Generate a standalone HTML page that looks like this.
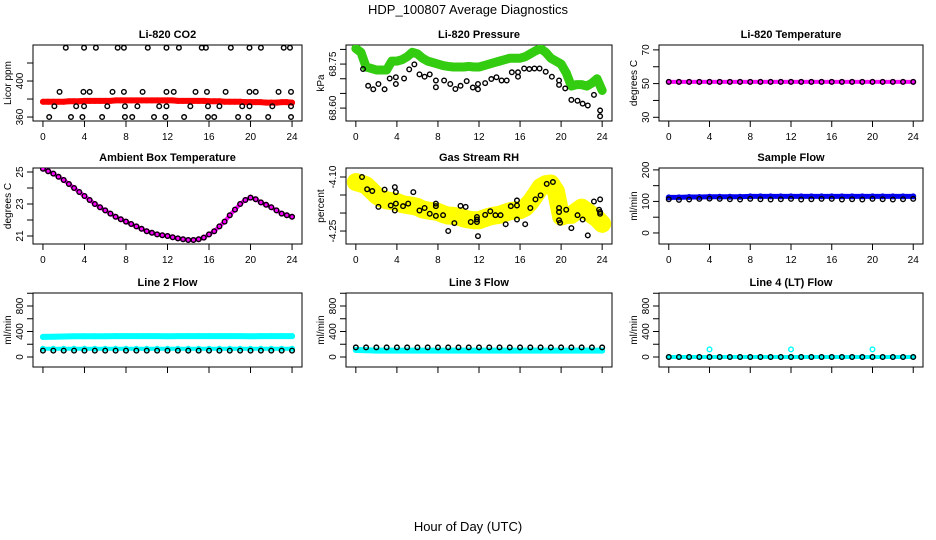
<!DOCTYPE html>
<html><head><meta charset="utf-8"><style>
html,body{margin:0;padding:0;background:#fff;}
svg{display:block;font-family:"Liberation Sans",sans-serif;}
</style></head><body>
<svg id="chart" width="936" height="540" viewBox="0 0 936 540" xmlns="http://www.w3.org/2000/svg">
<text x="468" y="14" font-size="13" text-anchor="middle">HDP_100807  Average Diagnostics</text>
<text x="468" y="531" font-size="13" text-anchor="middle">Hour of Day (UTC)</text>
</svg>
<script>
const xTicks=[0,4,8,12,16,20,24];
const halfHours=[0,0.5,1,1.5,2,2.5,3,3.5,4,4.5,5,5.5,6,6.5,7,7.5,8,8.5,9,9.5,10,10.5,11,11.5,12,12.5,13,13.5,14,14.5,15,15.5,16,16.5,17,17.5,18,18.5,19,19.5,20,20.5,21,21.5,22,22.5,23,23.5,24];
const hours=[0,1,2,3,4,5,6,7,8,9,10,11,12,13,14,15,16,17,18,19,20,21,22,23,24];
// Li-820 CO2
const co2BlackX=[2.2,3.96,5.1,7.2,7.8,10.1,11.9,13.1,15.3,15.7,18.1,19.9,21.0,23.2,23.8,1.6,3.9,4.5,6.7,7.8,9.6,11.9,12.6,14.7,15.8,17.6,19.9,20.5,22.7,23.9,1.1,3.2,3.96,6.2,7.9,9.1,11.2,11.9,14.2,15.9,17.0,19.2,19.9,22.1,23.9,0.6,2.7,3.8,5.7,7.9,8.6,10.7,11.8,13.6,15.9,16.5,18.8,19.8,21.7,23.9];
const co2BlackY=[437,437,437,437,437,437,437,437,437,437,437,437,437,437,437,388,388,388,388,388,388,388,388,388,388,388,388,388,388,388,372,372,372,372,372,372,372,372,372,372,372,372,372,372,372,360,360,360,360,360,360,360,360,360,360,360,360,360,360,360];
const co2Red=[377,377,377,377,377,377.5,377.5,377.5,378,378,378,378,378,378,378.5,378.5,378.5,378.5,378.5,378.5,378.5,378.5,378.5,378.5,378.5,378.5,378,378,378,378,378,378,377.5,377.5,377.5,377,377,377,377,376.5,376.5,376.5,376.5,376,376,376,376.5,376.5,376];
// Li-820 Pressure
const presGreen=[68.803,68.79,68.74,68.735,68.73,68.73,68.73,68.76,68.76,68.765,68.775,68.79,68.785,68.77,68.76,68.755,68.75,68.745,68.742,68.74,68.74,68.74,68.742,68.74,68.74,68.745,68.75,68.755,68.76,68.765,68.77,68.77,68.77,68.775,68.785,68.795,68.803,68.79,68.77,68.76,68.75,68.72,68.675,68.68,68.68,68.675,68.685,68.7,68.66];
const presBlackX=[0.7,1.2,1.7,2.2,2.8,3.3,3.9,3.9,4.7,5.2,5.7,6.2,6.7,7.2,7.8,7.8,8.6,9.2,9.7,10.2,10.8,11.4,11.9,11.9,12.6,13.2,13.7,14.2,14.7,15.2,15.8,15.8,16.4,16.9,17.4,17.9,18.5,19.1,19.8,19.8,20.4,21.0,21.6,22.1,22.6,23.2,23.8,23.8];
const presBlackY=[68.733,68.676,68.664,68.682,68.664,68.701,68.682,68.705,68.701,68.732,68.749,68.715,68.707,68.715,68.694,68.671,68.694,68.682,68.665,68.676,68.692,68.670,68.682,68.664,68.685,68.699,68.705,68.694,68.694,68.722,68.722,68.707,68.735,68.733,68.735,68.735,68.724,68.707,68.694,68.679,68.667,68.628,68.625,68.615,68.609,68.645,68.592,68.572];
// Li-820 Temperature
const tempMagenta=[51,51,51,51,51,51,51,51,51,51,51,51,51,51,51,51,51,51,51,51,51,51,51,51,51];
const tempBlack=[51,51,51,51,51,51,51,51,51,51,51,51,51,51,51,51,51,51,51,51,51,51,51,51,51];
// Ambient box temperature
const ambient=[25.2,25.05,24.9,24.7,24.5,24.25,24.0,23.75,23.5,23.25,23.0,22.8,22.6,22.4,22.2,22.05,21.9,21.75,21.6,21.45,21.3,21.2,21.1,21.05,21.0,20.92,20.85,20.8,20.75,20.75,20.8,20.9,21.1,21.3,21.6,21.9,22.3,22.65,23.0,23.25,23.4,23.3,23.1,22.95,22.8,22.6,22.4,22.3,22.2];
// Gas stream RH
const rhYellow=[-4.114,-4.118,-4.123,-4.137,-4.151,-4.16,-4.165,-4.167,-4.169,-4.175,-4.178,-4.18,-4.183,-4.19,-4.193,-4.195,-4.197,-4.203,-4.207,-4.208,-4.21,-4.215,-4.218,-4.22,-4.22,-4.215,-4.21,-4.207,-4.205,-4.2,-4.195,-4.193,-4.192,-4.185,-4.17,-4.15,-4.128,-4.12,-4.118,-4.14,-4.21,-4.205,-4.205,-4.195,-4.185,-4.195,-4.205,-4.215,-4.23];
const rhBlackX=[0.6,1.1,1.6,2.2,2.8,3.4,3.8,3.9,3.8,3.9,4.6,5.1,5.6,6.2,6.7,7.2,7.8,7.8,7.8,8.5,9.0,9.6,10.2,10.7,11.2,11.8,11.8,11.8,11.9,12.6,13.1,13.6,14.1,14.6,15.1,15.7,15.7,15.7,16.5,17.0,17.5,18.0,18.6,19.2,19.8,19.8,19.8,19.9,20.5,21.0,21.6,22.1,22.6,23.2,23.7,23.8,23.8,23.8];
const rhBlackY=[-4.100,-4.134,-4.139,-4.183,-4.135,-4.179,-4.128,-4.142,-4.193,-4.174,-4.181,-4.174,-4.142,-4.193,-4.186,-4.202,-4.208,-4.174,-4.181,-4.206,-4.250,-4.228,-4.180,-4.183,-4.225,-4.211,-4.218,-4.225,-4.264,-4.205,-4.195,-4.206,-4.206,-4.231,-4.181,-4.165,-4.179,-4.218,-4.231,-4.186,-4.162,-4.151,-4.119,-4.114,-4.186,-4.197,-4.220,-4.227,-4.191,-4.242,-4.206,-4.218,-4.262,-4.168,-4.191,-4.162,-4.197,-4.202];
// Sample flow
const sampleBlue=[113,113,114,114,115,115,115,115,116,116,116,116,116,116,116,116,116,116,116,116,116,116,116,116,116];
const sampleBlack=[107,105,106,108,109,108,107,106,108,107,106,107,108,106,107,108,108,106,107,106,108,107,106,107,108];
// Line 2 flow
const line2Upper=[315,318,322,325,326,326,326,327,327,327,327,327,326,327,327,327,327,327,327,327,325,327,327,327,327];
const line2Lower=[130,130,130,130,130,130,130,130,130,130,130,130,130,130,130,130,130,130,130,130,130,130,130,130,130];
const line2Black=[100,100,100,100,100,100,100,100,100,100,100,100,100,100,100,100,100,100,100,100,100,100,100,100,100];
// Line 3 flow
const line3Cyan=[110,105,100,100,100,100,100,100,100,100,100,100,100,100,100,100,100,100,100,100,100,100,100,100,100];
const line3Black=[150,150,150,150,150,150,150,150,150,150,150,150,150,150,150,150,150,150,150,150,150,150,150,150,150];
// Line 4 flow
const line4Cyan=[0,0,0,0,0,0,0,0,0,0,0,0,0,0,0,0,0,0,0,0,0,0,0,0,0];
const line4Black=[0,0,0,0,0,0,0,0,0,0,0,0,0,0,0,0,0,0,0,0,0,0,0,0,0];
const line4SpikeX=[4,12,20];
const line4SpikeY=[120,120,120];

const NS="http://www.w3.org/2000/svg";
const svg=document.getElementById('chart');
function mk(tag,attrs,parent){const e=document.createElementNS(NS,tag);for(const k in attrs)e.setAttribute(k,attrs[k]);(parent||svg).appendChild(e);return e;}

function panel(name,title,ylab,col,row,ymin,ymax,yticks,ylabels){
  const cols=[[33,302],[346,612],[659,923]], rows=[[45,121],[168,244],[293,367]];
  const [L,R]=cols[col],[T,B]=rows[row];
  const g=mk('g',{});
  
  
  const w=R-L, x0=L+w*0.037, x1=R-w*0.037;
  const sx=v=>x0+(v/24)*(x1-x0);
  const sy=v=>B-(v-ymin)/(ymax-ymin)*(B-T);
  const t=mk('text',{x:(L+R)/2,y:T-7,'font-size':11,'font-weight':'bold','text-anchor':'middle'},g);
  t.textContent=title;
  
  
  const fr=mk('rect',{x:L,y:T,width:w,height:B-T,fill:'none',stroke:'#000','stroke-width':1},g);
  
  
  const xa=mk('g',{},g);
  
  
  xTicks.forEach(v=>{
    mk('line',{x1:sx(v),x2:sx(v),y1:B,y2:B+6,stroke:'#000'},xa);
    if(row<2){const l=mk('text',{x:sx(v),y:B+19,'font-size':10,'text-anchor':'middle'},xa);l.textContent=v;
      
      }
  });
  const ya=mk('g',{},g);
  
  
  yticks.forEach((v,i)=>{
    mk('line',{x1:L-6,x2:L,y1:sy(v),y2:sy(v),stroke:'#000'},ya);
    if(ylabels[i]!==''){const tx=L-10,ty=sy(v);
      const l=mk('text',{x:tx,y:ty,'font-size':10,'text-anchor':'middle',transform:`rotate(-90 ${tx} ${ty})`},ya);l.textContent=ylabels[i];
      
      }
  });
  const lx=L-22,ly=(T+B)/2;
  const yl=mk('text',{x:lx,y:ly,'font-size':10,'text-anchor':'middle',transform:`rotate(-90 ${lx} ${ly})`},g);
  yl.textContent=ylab;
  
  
  const clip=mk('clipPath',{id:'clip-'+name},g);
  mk('rect',{x:L,y:T,width:w,height:B-T},clip);
  const plot=mk('g',{'clip-path':`url(#clip-${name})`},g);
  return {sx,sy,plot,name};
}
function band(p,xs,ys,color,sw,label){
  const pl=mk('polyline',{points:xs.map((x,i)=>p.sx(x)+','+p.sy(ys[i])).join(' '),fill:'none',stroke:color,'stroke-width':sw,'stroke-linejoin':'round','stroke-linecap':'round'},p.plot);
  
  
  points(p,xs,ys,color,label+'-point');
}
function points(p,xs,ys,color,label){
  const g=mk('g',{},p.plot);
  
  
  xs.forEach((x,i)=>{
    const c=mk('circle',{cx:p.sx(x),cy:p.sy(ys[i]),r:2.3,fill:'none',stroke:color,'stroke-width':1.4},g);
    
    
  });
}
let p;
p=panel('co2','Li-820 CO2','Licor ppm',0,0,355.6,440,[360,380,400,420],['360','','400','']);
band(p,halfHours,co2Red,'#ff0000',6,'co2-red-series');
points(p,co2BlackX,co2BlackY,'#000','co2-black-point');

p=panel('pressure','Li-820 Pressure','kPa',1,0,68.556,68.815,[68.60,68.65,68.70,68.75,68.80],['68.60','','','68.75','']);
band(p,halfHours,presGreen,'#33cc11',9,'pressure-green-series');
points(p,presBlackX,presBlackY,'#000','pressure-black-point');

p=panel('li820-temp','Li-820 Temperature','degrees C',2,0,27.8,72.9,[30,40,50,60,70],['30','','50','','70']);
band(p,hours,tempMagenta,'#ff00ff',4,'temp-magenta-series');
points(p,hours,tempBlack,'#000','temp-black-point');

p=panel('ambient','Ambient Box Temperature','degrees C',0,1,20.5,25.25,[21,22,23,24,25],['21','','23','','25']);
band(p,halfHours,ambient,'#ff00ff',4,'ambient-magenta-series');
points(p,halfHours,ambient,'#000','ambient-black-point');

p=panel('rh','Gas Stream RH','percent',1,1,-4.286,-4.075,[-4.25,-4.20,-4.15,-4.10],['-4.25','','','-4.10']);
band(p,halfHours,rhYellow,'#ffff00',18,'rh-yellow-series');
points(p,rhBlackX,rhBlackY,'#000','rh-black-point');

p=panel('sample-flow','Sample Flow','ml/min',2,1,-35,206,[0,50,100,150,200],['0','','100','','200']);
band(p,hours,sampleBlue,'#0000ee',5,'sample-blue-series');
points(p,hours,sampleBlack,'#000','sample-black-point');

p=panel('line2','Line 2 Flow','ml/min',0,2,-157,1004,[0,200,400,600,800,1000],['0','','400','','800','']);
band(p,hours,line2Upper,'#00ffff',6,'line2-upper-series');
band(p,hours,line2Lower,'#00ffff',4,'line2-lower-series');
points(p,hours,line2Black,'#000','line2-black-point');

p=panel('line3','Line 3 Flow','ml/min',1,2,-157,1004,[0,200,400,600,800,1000],['0','','400','','800','']);
band(p,hours,line3Cyan,'#00ffff',6,'line3-cyan-series');
points(p,hours,line3Black,'#000','line3-black-point');

p=panel('line4','Line 4 (LT) Flow','ml/min',2,2,-157,1004,[0,200,400,600,800,1000],['0','','400','','800','']);
band(p,hours,line4Cyan,'#00ffff',4,'line4-cyan-series');
points(p,line4SpikeX,line4SpikeY,'#00ffff','line4-spike-point');
points(p,hours,line4Black,'#000','line4-black-point');
</script>
</body></html>
